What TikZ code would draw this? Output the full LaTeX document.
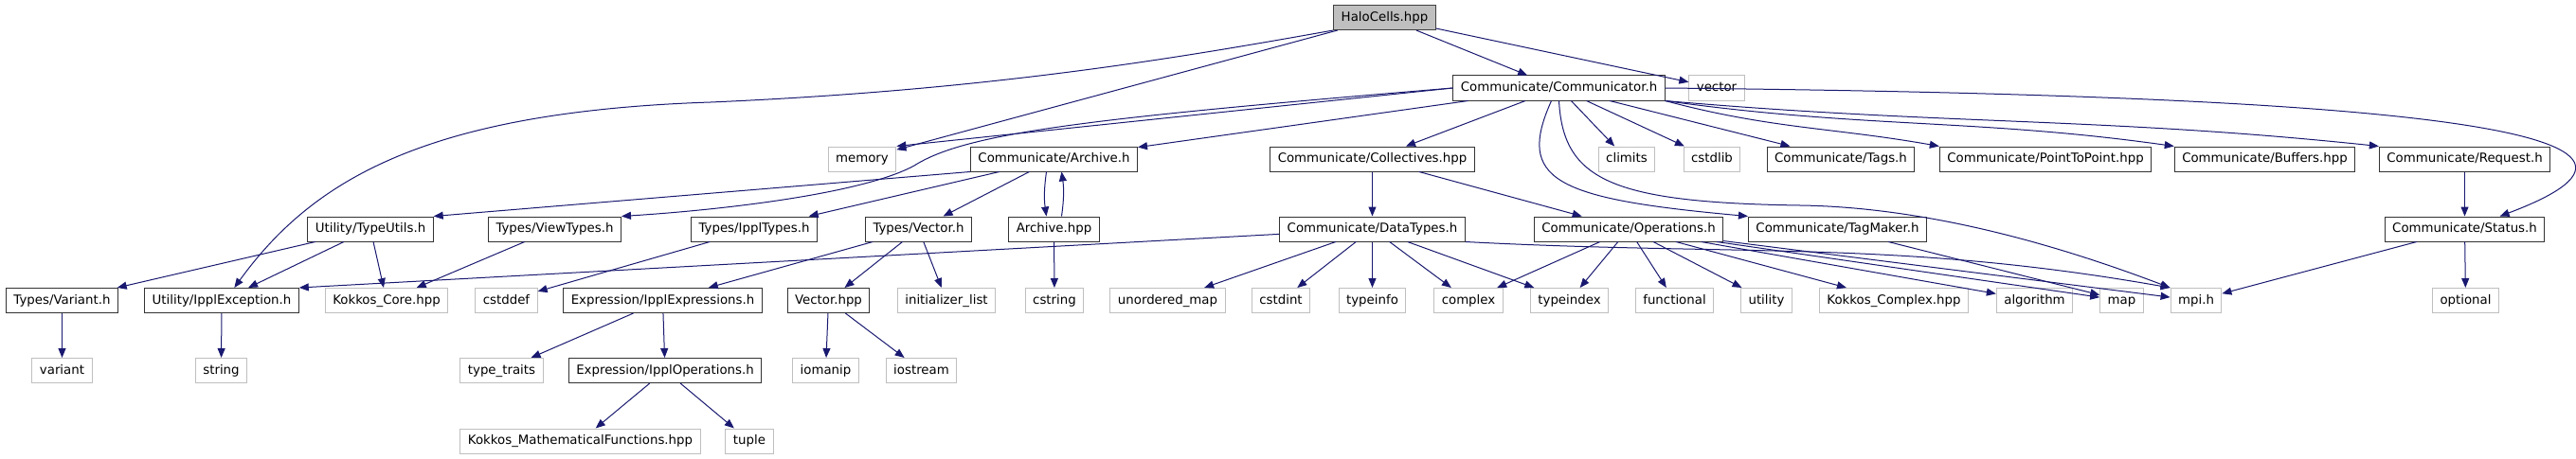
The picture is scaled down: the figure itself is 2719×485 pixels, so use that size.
\documentclass[tikz,border=0pt]{standalone}
\usepackage{fontspec}
\setmainfont{DejaVu Sans}
\usepackage{xcolor}
\usetikzlibrary{arrows.meta}
\definecolor{edgeblue}{HTML}{191970}
\definecolor{extgray}{HTML}{BFBFBF}

\begin{document}
\begin{tikzpicture}[x=0.75pt,y=-0.75pt,
    doc/.style={draw=black!80,line width=0.75pt,fill=white,minimum height=19.5pt,
        inner xsep=6pt,inner ysep=0pt,text height=7.3pt,text depth=1.9pt,
        font=\fontsize{10}{12}\selectfont},
    ext/.style={doc,draw=extgray},
    root/.style={doc,fill=extgray,draw=black!75},
    dep/.style={draw=edgeblue,line width=0.75pt,-{Triangle[length=7.5pt,width=6pt]}}]
    \useasboundingbox (0,0) rectangle (2719,485);
    % Nút gốc
    \node[root] (halo) at (1461.5,18.5) {HaloCells.hpp};
    % Tầng 1
    \node[doc] (comm) at (1645.5,93) {Communicate/Communicator.h};
    \node[ext] (vector) at (1812,93) {vector};
    % Tầng 2
    \node[ext] (memory) at (910,168) {memory};
    \node[doc] (archh) at (1112.5,168) {Communicate/Archive.h};
    \node[doc] (coll) at (1448.5,168) {Communicate/Collectives.hpp};
    \node[ext] (climits) at (1717,168) {climits};
    \node[ext] (cstdlib) at (1807,168) {cstdlib};
    \node[doc] (tags) at (1943,168) {Communicate/Tags.h};
    \node[doc] (p2p) at (2159,168) {Communicate/PointToPoint.hpp};
    \node[doc] (buffers) at (2390.5,168) {Communicate/Buffers.hpp};
    \node[doc] (request) at (2601.5,168) {Communicate/Request.h};
    % Tầng 3
    \node[doc] (typeutils) at (391,242) {Utility/TypeUtils.h};
    \node[doc] (viewtypes) at (585.5,242) {Types/ViewTypes.h};
    \node[doc] (ippltypes) at (796,242) {Types/IpplTypes.h};
    \node[doc] (vectorh) at (969.5,242) {Types/Vector.h};
    \node[doc] (archhpp) at (1112.5,242) {Archive.hpp};
    \node[doc] (datatypes) at (1448.5,242) {Communicate/DataTypes.h};
    \node[doc] (operations) at (1719,242) {Communicate/Operations.h};
    \node[doc] (tagmaker) at (1939.5,242) {Communicate/TagMaker.h};
    \node[doc] (status) at (2601.5,242) {Communicate/Status.h};
    % Tầng 4
    \node[doc] (varianth) at (65.5,317.5) {Types/Variant.h};
    \node[doc] (ipplexc) at (234,317.5) {Utility/IpplException.h};
    \node[ext] (kcore) at (408,317.5) {Kokkos\_Core.hpp};
    \node[ext] (cstddef) at (534.5,317.5) {cstddef};
    \node[doc] (iexpr) at (699.5,317.5) {Expression/IpplExpressions.h};
    \node[doc] (vectorhpp) at (874.5,317.5) {Vector.hpp};
    \node[ext] (initlist) at (999,317.5) {initializer\_list};
    \node[ext] (cstring) at (1113,317.5) {cstring};
    \node[ext] (umap) at (1232.5,317.5) {unordered\_map};
    \node[ext] (cstdint) at (1352,317.5) {cstdint};
    \node[ext] (typeinfo) at (1448.5,317.5) {typeinfo};
    \node[ext] (complex) at (1550,317.5) {complex};
    \node[ext] (typeindex) at (1656.5,317.5) {typeindex};
    \node[ext] (functional) at (1767.5,317.5) {functional};
    \node[ext] (utility) at (1864.5,317.5) {utility};
    \node[ext] (kcomplex) at (1999,317.5) {Kokkos\_Complex.hpp};
    \node[ext] (algorithm) at (2147.5,317.5) {algorithm};
    \node[ext] (map) at (2239.5,317.5) {map};
    \node[ext] (mpi) at (2318,317.5) {mpi.h};
    \node[ext] (optional) at (2602.5,317.5) {optional};
    % Tầng 5
    \node[ext] (variant) at (65.5,391.5) {variant};
    \node[ext] (string) at (233.5,391.5) {string};
    \node[ext] (typetraits) at (529.5,391.5) {type\_traits};
    \node[doc] (iops) at (702,391.5) {Expression/IpplOperations.h};
    \node[ext] (iomanip) at (871.5,391.5) {iomanip};
    \node[ext] (iostream) at (972.5,391.5) {iostream};
    % Tầng 6
    \node[ext] (kmath) at (612.5,466) {Kokkos\_MathematicalFunctions.hpp};
    \node[ext] (tuple) at (791,466) {tuple};

    % Cạnh từ HaloCells
    \draw[dep] (halo) -- (comm);
    \draw[dep] (halo) -- (vector);
    \draw[dep] (halo) -- (memory);
    \draw[dep] (halo.south west) .. controls (1250,60) and (1050,95) .. (750,108)
        .. controls (450,118) and (330,190) .. ([xshift=10pt]ipplexc.north);
    % Cạnh từ Communicator
    \draw[dep] (comm.west) -- (memory.north east);
    \draw[dep] (comm.west) .. controls (1150,125) and (1020,140) .. (965,175)
        .. controls (910,205) and (760,222) .. (viewtypes.north east);
    \draw[dep] (comm) -- (archh);
    \draw[dep] (comm) -- (coll);
    \draw[dep] (comm) -- (climits);
    \draw[dep] (comm) -- (cstdlib);
    \draw[dep] (comm) -- (tags);
    \draw[dep] (comm.south east) to[out=-15,in=170] (p2p.north west);
    \draw[dep] (comm.south east) to[out=-8,in=172] (buffers.north west);
    \draw[dep] (comm.south east) to[out=-5,in=174] (request.north west);
    \draw[dep] (comm.east) .. controls (2450,100) and (2900,130) .. (status.20);
    \draw[dep] ([xshift=-6pt]comm.south) .. controls (1600,190) and (1640,210) .. (tagmaker.north west);
    \draw[dep] (comm.south) .. controls (1650,190) and (1700,214) .. (1900,217)
        .. controls (2040,219) and (2180,262) .. (mpi.north west);
    % Cạnh từ Archive
    \draw[dep] (archh.south west) -- (typeutils.north east);
    \draw[dep] (archh) -- (ippltypes);
    \draw[dep] (archh) -- (vectorh);
    \draw[dep] ([xshift=-6pt]archh.south) to[bend right=8] ([xshift=-6pt]archhpp.north);
    \draw[dep] ([xshift=6pt]archhpp.north) to[bend right=8] ([xshift=6pt]archh.south);
    \draw[dep] (archhpp) -- (cstring);
    % Cạnh từ Collectives
    \draw[dep] (coll) -- (datatypes);
    \draw[dep] (coll) -- (operations);
    \draw[dep] (request) -- (status);
    % Cạnh từ Types
    \draw[dep] (typeutils) -- (varianth);
    \draw[dep] (typeutils) -- (ipplexc);
    \draw[dep] (typeutils) -- (kcore);
    \draw[dep] (viewtypes) -- (kcore);
    \draw[dep] (ippltypes) -- (cstddef);
    \draw[dep] (vectorh) -- (iexpr);
    \draw[dep] (vectorh) -- (vectorhpp);
    \draw[dep] (vectorh) -- (initlist);
    % Cạnh từ DataTypes
    \draw[dep] (datatypes) -- (ipplexc.north east);
    \draw[dep] (datatypes) -- (umap);
    \draw[dep] (datatypes) -- (cstdint);
    \draw[dep] (datatypes) -- (typeinfo);
    \draw[dep] (datatypes) -- (complex);
    \draw[dep] (datatypes) -- (typeindex);
    \draw[dep] (datatypes.south east) to[out=-3,in=170] (mpi.north west);
    % Cạnh từ Operations
    \draw[dep] (operations) -- (complex);
    \draw[dep] (operations) -- (typeindex);
    \draw[dep] (operations) -- (functional);
    \draw[dep] (operations) -- (utility);
    \draw[dep] (operations) -- (kcomplex);
    \draw[dep] (operations) -- (algorithm);
    \draw[dep] (operations) -- (map);
    \draw[dep] (operations) -- (mpi);
    \draw[dep] (tagmaker) -- (map);
    \draw[dep] (status) -- (mpi);
    \draw[dep] (status) -- (optional);
    % Cạnh tầng dưới
    \draw[dep] (varianth) -- (variant);
    \draw[dep] (ipplexc) -- (string);
    \draw[dep] (iexpr) -- (typetraits);
    \draw[dep] (iexpr) -- (iops);
    \draw[dep] (vectorhpp) -- (iomanip);
    \draw[dep] (vectorhpp) -- (iostream);
    \draw[dep] (iops) -- (kmath);
    \draw[dep] (iops) -- (tuple);
\end{tikzpicture}
\end{document}
